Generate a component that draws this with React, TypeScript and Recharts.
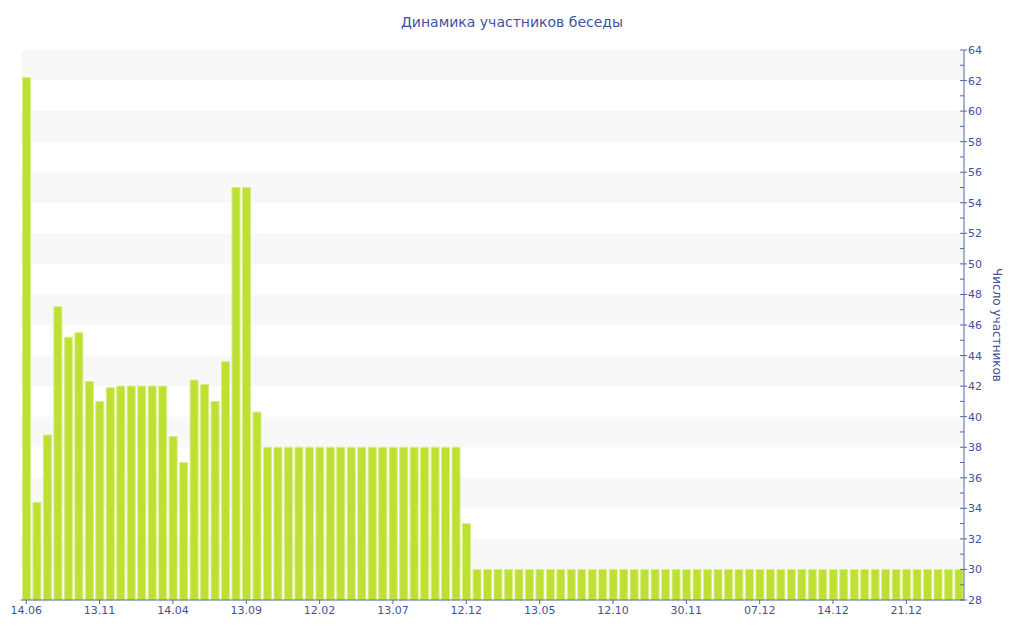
import React from "react";
import { BarChart, Bar, XAxis, YAxis, ReferenceArea } from "recharts";

// один столбец на каждый замер, подписи оси X — каждые 7 замеров
const tickLabels = [
  "14.06", "13.11", "14.04", "13.09", "12.02", "13.07", "12.12",
  "13.05", "12.10", "30.11", "07.12", "14.12", "21.12",
];

const members = [
  62.2, 34.4, 38.8, 47.2, 45.2, 45.5, 42.3, 41.0, 41.9, 42,
  42, 42, 42, 42, 38.7, 37.0, 42.4, 42.1, 41.0, 43.6,
  55, 55, 40.3, 38, 38, 38, 38, 38, 38, 38,
  38, 38, 38, 38, 38, 38, 38, 38, 38, 38,
  38, 38, 33, 30, 30, 30, 30, 30, 30, 30,
  30, 30, 30, 30, 30, 30, 30, 30, 30, 30,
  30, 30, 30, 30, 30, 30, 30, 30, 30, 30,
  30, 30, 30, 30, 30, 30, 30, 30, 30, 30,
  30, 30, 30, 30, 30, 30, 30, 30, 30, 30,
];

const yTicks = [
  28, 29, 30, 31, 32, 33, 34, 35, 36, 37, 38, 39, 40, 41, 42, 43, 44, 45, 46,
  47, 48, 49, 50, 51, 52, 53, 54, 55, 56, 57, 58, 59, 60, 61, 62, 63, 64,
];
// затенённые полосы фона
const bands = [
  [62, 64], [58, 60], [54, 56], [50, 52], [46, 48],
  [42, 44], [38, 40], [34, 36], [30, 32],
];

const AXIS = "#5368ab";
const TEXT = "#3f529e";
const FONT = "'DejaVu Sans', Verdana, sans-serif";

const data = members.map((v, i) => ({ idx: i, value: v }));

function RightTick(props: any) {
  const { x, y, payload } = props;
  const major = payload.value % 2 === 0;
  return (
    <g>
      <line x1={x - 4} x2={major ? x + 3 : x} y1={y} y2={y} stroke={AXIS} strokeWidth={1} />
      {major && (
        <text x={x + 4} y={y} dy="0.36em" fontSize={11} fill={TEXT} fontFamily={FONT}>
          {payload.value}
        </text>
      )}
    </g>
  );
}

export default function App() {
  return (
    <div style={{ position: "absolute", left: 0, top: 0, width: 1024, height: 640, background: "#fff" }}>
      <div
        style={{
          position: "absolute",
          top: 14,
          left: 0,
          width: 1024,
          textAlign: "center",
          fontFamily: FONT,
          fontSize: 14,
          color: TEXT,
        }}
      >
        Динамика участников беседы
      </div>
      <BarChart
        width={1024}
        height={640}
        data={data}
        margin={{ top: 50, right: 0, bottom: 10, left: 21 }}
        barCategoryGap="14%"
      >
        {bands.map(([a, b]) => (
          <ReferenceArea key={a} y1={a} y2={b} fill="#f8f8f8" fillOpacity={1} stroke="none" ifOverflow="hidden" />
        ))}
        <XAxis
          dataKey="idx"
          type="category"
          interval={6}
          height={30}
          tickSize={4}
          stroke={AXIS}
          tick={{ fontSize: 11, fill: TEXT, fontFamily: FONT }}
          tickFormatter={(v: number) => tickLabels[v / 7]}
        />
        <YAxis
          orientation="right"
          width={60}
          domain={[28, 64]}
          ticks={yTicks}
          interval={0}
          tickSize={0}
          tickMargin={0}
          tickLine={false}
          stroke={AXIS}
          tick={<RightTick />}
          label={{
            value: "Число участников",
            angle: 90,
            position: "center",
            dx: 3,
            fill: TEXT,
            fontSize: 12,
            fontFamily: FONT,
          }}
        />
        <Bar dataKey="value" fill="#bde032" stroke="#d6ed88" strokeWidth={1} isAnimationActive={false} />
      </BarChart>
    </div>
  );
}
